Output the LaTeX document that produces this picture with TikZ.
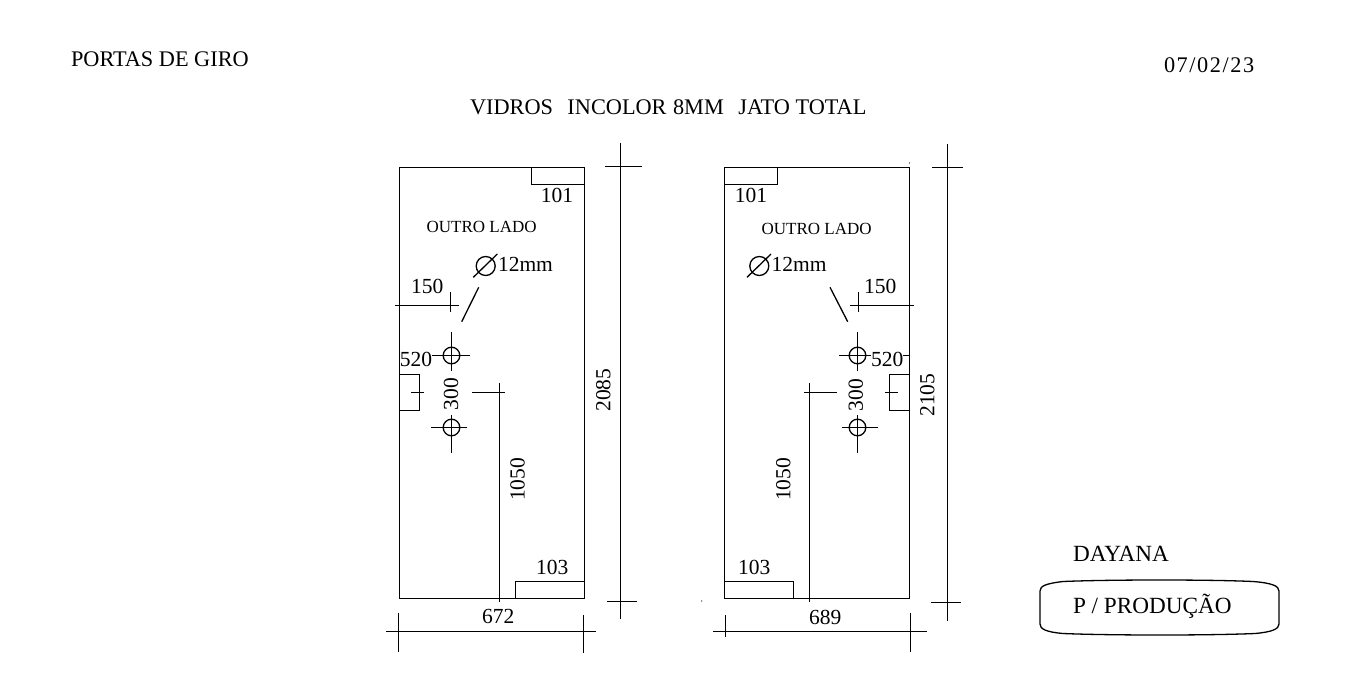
\documentclass[tikz,border=0pt]{standalone}
\usepackage{fontspec}
\setmainfont{Liberation Serif}
\usetikzlibrary{positioning}

\begin{document}
\begin{tikzpicture}[x=1pt,y=-1pt,line width=1.3pt,
    every node/.style={inner sep=0,outer sep=0},
    titletext/.style={font=\fontsize{22.3}{24}\selectfont,anchor=base west},
    signtext/.style={font=\fontsize{23.2}{24}\selectfont,anchor=base west},
    dimtext/.style={font=\fontsize{21.5}{24}\selectfont},
    sidetext/.style={font=\fontsize{17}{20}\selectfont}]
      \useasboundingbox(0,0)rectangle(1369,696);

      \node(portas)[titletext] at (71,66){PORTAS DE GIRO};
      \node(data)[titletext,font=\fontsize{22.3}{24}\selectfont\addfontfeature{LetterSpace=7}] at (1164,72){07/02/23};
      \node(vidros)[titletext] at (470,114){VIDROS\hspace{14.5pt}INCOLOR\hspace{6.5pt}8MM\hspace{14.5pt}JATO\hspace{5.5pt}TOTAL};
      \node(dayana)[signtext] at (1073,561){DAYANA};
      \node(producao)[signtext] at (1073,613){P / PRODUÇÃO};

      \draw(1040,591) .. controls (1040,586) and (1046,583.5) .. (1063,581.5)
        .. controls (1110,579.5) and (1210,579.5) .. (1253,581.5)
        .. controls (1272,583) and (1279,586) .. (1279,591)
        -- (1279,624) .. controls (1279,629) and (1272,632) .. (1255,633.5)
        .. controls (1210,635.5) and (1110,635.5) .. (1063,633.5)
        .. controls (1046,632) and (1040,629) .. (1040,624) -- cycle;

      \draw(399.5,167.5)rectangle(584.5,598.5);
      \draw(531.5,167.5)|-(584.5,184.5);
      \draw(515.5,598.5)|-(584.5,581.5);
      \draw(399.5,374.5)-|(419.5,410.5)--(399.5,410.5);
      \draw(411,392.5)--(424,392.5);

      \node(centena)[dimtext] at (557,195.7){101};
      \node(outro)[sidetext] at (481.7,226.7){OUTRO LADO};
      \node(doze)[dimtext,anchor=base west] at (498,271.7){12mm};
      \node(cento)[dimtext] at (427.3,286.7){150};
      \node(quinhentos)[dimtext] at (416,359){520};
      \node(trezentos)[dimtext,rotate=90] at (451,394.3){300};
      \node(altura)[dimtext,rotate=90] at (603.3,390){2085};
      \node(mil)[dimtext,rotate=90] at (517.7,479.3){1050};
      \node(baixo)[dimtext] at (552.3,567.3){103};
      \node(largura)[dimtext] at (498.3,616.7){672};

      \draw(485.7,266)circle(9.5);
      \draw(473.3,277.3)--(497.3,254);
      \draw(478.7,287.3)--(461.7,321.7);
      \draw(395,305.5)--(459,305.5);
      \draw(450.5,292.3)--(450.5,311.7);

      \draw(451.5,355.5)circle(8.3);
      \draw(451.5,332)--(451.5,371.3);
      \draw(431.7,355.5)--(469.7,355.5);
      \draw(451.5,427.5)circle(8.3);
      \draw(451.5,415)--(451.5,452.7);
      \draw(431,427.5)--(466.7,427.5);

      \draw(472,392.5)--(505,392.5);
      \draw(499.5,383)--(499.5,601.7);

      \draw(620.5,143.3)--(620.5,619.3);
      \draw(605,166.5)--(641.7,166.5);
      \draw(607,601.5)--(637,601.5);

      \draw(386,631.5)--(596,631.5);
      \draw(398.5,613)--(398.5,651.7);
      \draw(583.5,615)--(583.5,652.7);

      \draw(724.5,167.5)rectangle(909.5,598.5);
      \draw(724.5,184.5)-|(777.5,167.5);
      \draw(724.5,581.5)-|(793.5,598.5);
      \draw(909.5,374.5)-|(889.5,410.5)--(909.5,410.5);
      \draw(885,392.5)--(897.7,392.5);

      \node(centenaB)[dimtext] at (751,195.7){101};
      \node(outroB)[sidetext] at (816.7,229.3){OUTRO LADO};
      \node(dozeB)[dimtext,anchor=base west] at (771.7,271.7){12mm};
      \node(centoB)[dimtext] at (880.3,286.7){150};
      \node(quinhentosB)[dimtext] at (887.3,359){520};
      \node(trezentosB)[dimtext,rotate=90] at (855.7,395){300};
      \node(alturaB)[dimtext,rotate=90] at (927.3,395){2105};
      \node(milB)[dimtext,rotate=90] at (783.3,479.3){1050};
      \node(baixoB)[dimtext] at (754.3,567.3){103};
      \node(larguraB)[dimtext] at (825.3,617.3){689};

      \draw(759.3,266)circle(9.5);
      \draw(747,277.3)--(771,254);
      \draw(830,287.3)--(847.7,321.7);
      \draw(850,305.5)--(913.7,305.5);
      \draw(858.5,292.3)--(858.5,311.7);

      \draw(857.5,355.5)circle(8.3);
      \draw(857.5,332)--(857.5,371.3);
      \draw(839,355.5)--(871,355.5);
      \draw(903,355.5)--(909.5,355.5);
      \draw(857.5,427.5)circle(8.3);
      \draw(857.5,415)--(857.5,452.7);
      \draw(842.3,427.5)--(877.7,427.5);

      \draw(804,392.5)--(837,392.5);
      \draw(809.5,383)--(809.5,601.7);

      \draw(947.5,144)--(947.5,620.7);
      \draw(932,167.5)--(962.7,167.5);
      \draw(931,602.5)--(961,602.5);

      \draw(713,631.5)--(926.7,631.5);
      \draw(725.5,615)--(725.5,636.7);
      \draw(910.5,613)--(910.5,651.7);

      \fill(909.5,163)circle(.6);
      \fill(701.7,601)circle(.6);
\end{tikzpicture}
\end{document}
